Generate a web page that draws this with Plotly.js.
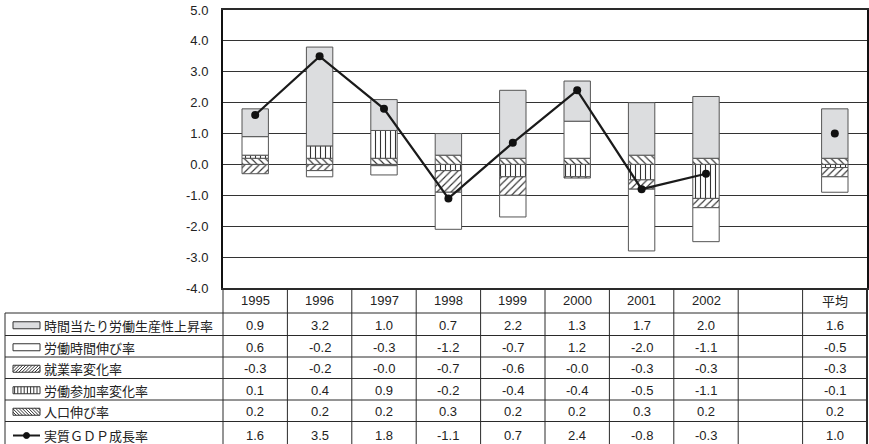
<!DOCTYPE html>
<html>
<head>
<meta charset="utf-8">
<script src="https://cdn.plot.ly/plotly-3.0.1.min.js"></script>
<style>
html,body{margin:0;padding:0;background:#fff;}
#chart{width:869px;height:444px;}
</style>
</head>
<body>
<div id="chart"></div>
<script>
// ---- data ----
const categories = ['1995','1996','1997','1998','1999','2000','2001','2002','','平均'];
const productivity = [0.9, 3.2, 1.0, 0.7, 2.2, 1.3, 1.7, 2.0, null, 1.6];
const hours = [0.6, -0.2, -0.3, -1.2, -0.7, 1.2, -2.0, -1.1, null, -0.5];
const employment = [-0.3, -0.2, -0.04, -0.7, -0.6, -0.04, -0.3, -0.3, null, -0.3];
const participation = [0.1, 0.4, 0.9, -0.2, -0.4, -0.4, -0.5, -1.1, null, -0.1];
const population = [0.2, 0.2, 0.2, 0.3, 0.2, 0.2, 0.3, 0.2, null, 0.2];
const gdp = [1.6, 3.5, 1.8, -1.1, 0.7, 2.4, -0.8, -0.3, null, 1.0];
const seriesNames = ['時間当たり労働生産性上昇率','労働時間伸び率','就業率変化率','労働参加率変化率','人口伸び率','実質ＧＤＰ成長率'];
const yTickVals = [5, 4, 3, 2, 1, 0, -1, -2, -3, -4];
const yTickText = ['5.0','4.0','3.0','2.0','1.0','0.0','-1.0','-2.0','-3.0','-4.0'];

// ---- geometry (pixels) ----
const W = 869, H = 444;
const L = 223, R = 867, T = 10, B = 288;
const PW = R - L, PH = B - T;
const px = p => (p - L) / PW;
const py = p => (B - p) / PH;

const xIdx = categories.map((c, i) => i);
const lineCol = '#2a2a2a';
const textCol = '#222';
const numFont = {family: 'Liberation Sans, Arial, sans-serif', size: 13, color: textCol};
const jpFont = {family: 'Noto Sans CJK JP, sans-serif', size: 13, color: textCol};

function pat(shape) {
  return {shape: shape, size: 5, solidity: 0.22, fgcolor: '#333', bgcolor: '#ffffff', fillmode: 'replace'};
}
const barLine = {color: '#555', width: 1};

const traces = [
  {type: 'bar', x: xIdx, y: population, name: seriesNames[4],
   marker: {color: '#fff', pattern: pat('\\'), line: barLine}},
  {type: 'bar', x: xIdx, y: participation, name: seriesNames[3],
   marker: {color: '#fff', pattern: pat('|'), line: barLine}},
  {type: 'bar', x: xIdx, y: employment, name: seriesNames[2],
   marker: {color: '#fff', pattern: pat('/'), line: barLine}},
  {type: 'bar', x: xIdx, y: hours, name: seriesNames[1],
   marker: {color: '#ffffff', line: barLine}},
  {type: 'bar', x: xIdx, y: productivity, name: seriesNames[0],
   marker: {color: '#dcdddf', line: barLine}},
  {type: 'scatter', mode: 'lines+markers', x: xIdx, y: gdp, name: seriesNames[5],
   connectgaps: false,
   line: {color: '#1a1a1a', width: 2.2}, marker: {color: '#111', size: 8}}
];

// ---- table ----
const shapes = [];
const annotations = [];
const hline = (x0, x1, y, w) => shapes.push({type: 'line', xref: 'paper', yref: 'paper',
  x0: px(x0), x1: px(x1), y0: py(y), y1: py(y), line: {color: lineCol, width: w || 1}});
const vline = (x, y0, y1, w) => shapes.push({type: 'line', xref: 'paper', yref: 'paper',
  x0: px(x), x1: px(x), y0: py(y0), y1: py(y1), line: {color: lineCol, width: w || 1}});

const headerBottom = 313;
const rowLines = [313, 335.5, 357, 378.5, 400, 421.5, 452];
const tableBottom = 452;
const colW = PW / categories.length;

// horizontal lines
for (let r = 0; r < rowLines.length - 1; r++) hline(5, R, rowLines[r]);
// vertical lines
for (let k = 1; k < categories.length; k++) vline(L + k * colW, B, tableBottom);
vline(L, B, tableBottom);
vline(R, B, tableBottom, 2);
vline(5, headerBottom, tableBottom);

// header labels
categories.forEach((c, i) => {
  if (!c) return;
  annotations.push({xref: 'x', yref: 'paper', x: i, y: py(300.5), text: c, showarrow: false,
    xanchor: 'center', yanchor: 'middle', font: c === '平均' ? jpFont : numFont});
});

const tableSeries = [productivity, hours, employment, participation, population, gdp];
const rowCenters = [];
for (let r = 0; r < tableSeries.length; r++) rowCenters.push((rowLines[r] + rowLines[r + 1]) / 2 + 1);
rowCenters[5] = 435.5;

tableSeries.forEach((arr, r) => {
  arr.forEach((v, i) => {
    if (v === null) return;
    annotations.push({xref: 'x', yref: 'paper', x: i, y: py(rowCenters[r]), text: v.toFixed(1),
      showarrow: false, xanchor: 'center', yanchor: 'middle', font: numFont});
  });
  annotations.push({xref: 'paper', yref: 'paper', x: px(42), y: py(rowCenters[r]), text: seriesNames[r],
    showarrow: false, xanchor: 'left', yanchor: 'middle', font: jpFont});
});

// legend symbols
function rectSym(r, fill) {
  const yc = rowCenters[r];
  shapes.push({type: 'rect', xref: 'paper', yref: 'paper', x0: px(13), x1: px(40),
    y0: py(yc - 3.5), y1: py(yc + 3.5), fillcolor: fill, line: {color: '#333', width: 1}});
}
function hatchSym(r, kind) {
  const yc = rowCenters[r];
  const x0 = 13, x1 = 40, y0 = yc - 3.5, y1 = yc + 3.5, h = y1 - y0, s = 3.2;
  let d = '';
  const P = (x, y) => px(x) + ',' + py(y);
  if (kind === '|') {
    for (let x = x0 + s / 2; x < x1; x += s) d += 'M' + P(x, y0) + 'L' + P(x, y1);
  } else {
    for (let a = x0 - h; a < x1; a += s) {
      const t0 = Math.max(a, x0), t1 = Math.min(a + h, x1);
      if (t1 <= t0) continue;
      if (kind === '/') d += 'M' + P(t0, y1 - (t0 - a)) + 'L' + P(t1, y1 - (t1 - a));
      else d += 'M' + P(t0, y0 + (t0 - a)) + 'L' + P(t1, y0 + (t1 - a));
    }
  }
  shapes.push({type: 'path', xref: 'paper', yref: 'paper', path: d, line: {color: '#333', width: 1}});
}
rectSym(0, '#dcdddf');
rectSym(1, '#ffffff');
rectSym(2, '#ffffff'); hatchSym(2, '/');
rectSym(3, '#ffffff'); hatchSym(3, '|');
rectSym(4, '#ffffff'); hatchSym(4, '\\');
// GDP line symbol
shapes.push({type: 'line', xref: 'paper', yref: 'paper', x0: px(13), x1: px(40),
  y0: py(rowCenters[5]), y1: py(rowCenters[5]), line: {color: '#1a1a1a', width: 2}});
shapes.push({type: 'circle', xref: 'paper', yref: 'paper', x0: px(23.5), x1: px(29.5),
  y0: py(rowCenters[5] - 3), y1: py(rowCenters[5] + 3), fillcolor: '#111', line: {color: '#111', width: 1}});

const layout = {
  width: W, height: H,
  margin: {l: L, r: W - R, t: T, b: H - B, pad: 0},
  paper_bgcolor: '#fff', plot_bgcolor: '#fff',
  barmode: 'relative', bargap: 0.59,
  showlegend: false,
  xaxis: {range: [-0.5, categories.length - 0.5], showticklabels: false, showgrid: false,
    zeroline: false, showline: true, mirror: true, linecolor: lineCol, linewidth: 2, ticks: '', fixedrange: true},
  yaxis: {range: [-4, 5], tickvals: yTickVals, ticktext: yTickText, showgrid: true,
    gridcolor: '#333', gridwidth: 1, zeroline: true, zerolinecolor: '#333', zerolinewidth: 1,
    showline: true, mirror: true, linecolor: '#111', linewidth: 2, ticks: '', ticklabelstandoff: 10,
    tickfont: numFont, fixedrange: true},
  shapes: shapes,
  annotations: annotations
};

Plotly.newPlot('chart', traces, layout, {displayModeBar: false, staticPlot: true});
</script>
</body>
</html>
